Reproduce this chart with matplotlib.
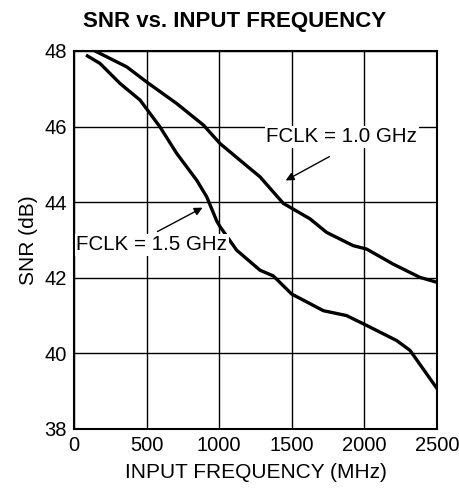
import numpy as np
import matplotlib.pyplot as plt

plt.rcParams['font.family'] = ['Liberation Sans', 'DejaVu Sans']

# FCLK = 1.0 GHz
f_10 = [145, 363, 500, 707, 891, 1006, 1143, 1281, 1441, 1625, 1740, 1923, 2015, 2199, 2383, 2500]
snr_10 = [48.0, 47.58, 47.18, 46.61, 46.04, 45.55, 45.11, 44.67, 43.97, 43.56, 43.2, 42.85, 42.76, 42.36, 42.01, 41.88]

# FCLK = 1.5 GHz
f_15 = [92, 179, 317, 455, 592, 707, 845, 914, 983, 1006, 1120, 1281, 1372, 1499, 1717, 1877, 2015, 2222, 2314, 2500]
snr_15 = [47.87, 47.67, 47.14, 46.70, 45.99, 45.29, 44.58, 44.14, 43.5, 43.35, 42.73, 42.2, 42.05, 41.57, 41.13, 41.0, 40.74, 40.34, 40.08, 39.07]

xticks = [0, 500, 1000, 1500, 2000, 2500]
yticks = [38, 40, 42, 44, 46, 48]

fig = plt.figure(figsize=(4.6, 4.98), dpi=100)
ax = fig.add_axes([0.161, 0.1386, 0.789, 0.759])

ax.plot(f_10, snr_10, color='black', lw=2.4, solid_joinstyle='round', zorder=3)
ax.plot(f_15, snr_15, color='black', lw=2.4, solid_joinstyle='round', zorder=3)

ax.set_xlim(0, 2500)
ax.set_ylim(38, 48)
ax.set_xticks(xticks)
ax.set_yticks(yticks)
ax.tick_params(length=0, labelsize=14.5, pad=5)
ax.grid(True, color='black', lw=1.0)
for s in ax.spines.values():
    s.set_linewidth(1.5)

ax.set_xlabel('INPUT FREQUENCY (MHz)', fontsize=15, labelpad=6)
ax.set_ylabel('SNR (dB)', fontsize=15, labelpad=5)
fig.suptitle('SNR vs. INPUT FREQUENCY', fontsize=16, fontweight='bold', x=0.51, y=0.978)

box = dict(facecolor='white', edgecolor='none', pad=1)
ax.text(1845, 45.73, 'FCLK = 1.0 GHz', fontsize=14.8, ha='center', va='center', bbox=box, zorder=4)
ax.annotate('', xy=(1441, 44.54), xytext=(1775, 45.24),
            arrowprops=dict(arrowstyle='-|>', color='black', lw=1.0, mutation_scale=12), zorder=4)
ax.text(535, 42.87, 'FCLK = 1.5 GHz', fontsize=14.8, ha='center', va='center', bbox=box, zorder=4)
ax.annotate('', xy=(902, 43.89), xytext=(558, 43.19),
            arrowprops=dict(arrowstyle='-|>', color='black', lw=1.0, mutation_scale=12), zorder=4)

fig.savefig('out.png', dpi=100)
